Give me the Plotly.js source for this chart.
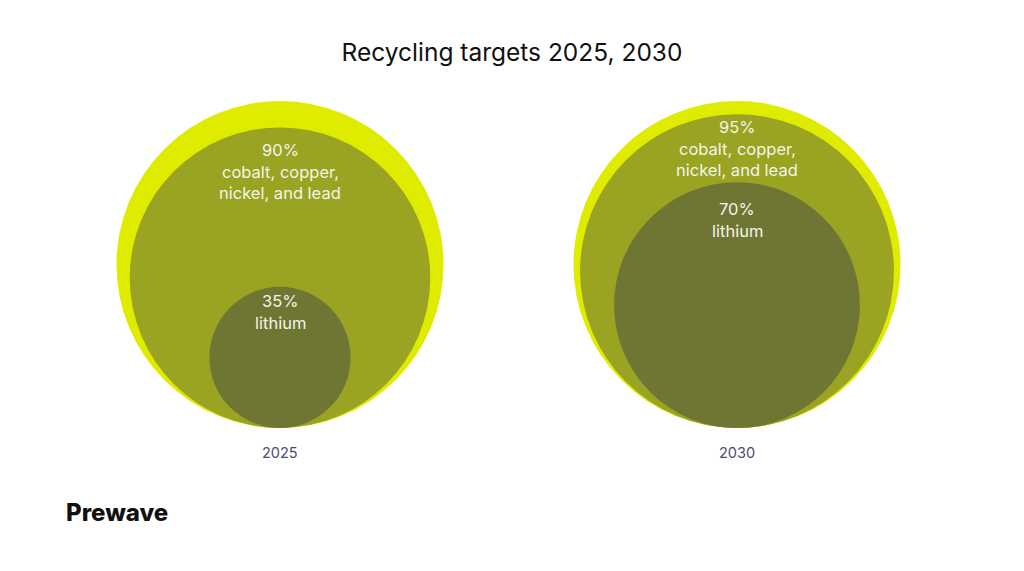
<!DOCTYPE html>
<html>
<head>
<meta charset="utf-8">
<script src="https://cdn.plot.ly/plotly-3.0.1.min.js"></script>
<style>html,body{margin:0;padding:0;background:#fff;}#chart{width:1024px;height:571px;}</style>
</head>
<body>
<div id="chart"></div>
<script>
// ---- data ----
const years = ['2025', '2030'];
const metalsShare = [90, 95];     // cobalt, copper, nickel and lead
const lithiumShare = [35, 70];    // lithium
const metalsLines = ['cobalt, copper,', 'nickel, and lead'];
const lithiumLines = ['lithium'];
const chartTitle = 'Recycling targets 2025, 2030';

// ---- layout helpers (plot coords = pixels, y up) ----
const H = 571;
const centersX = [280, 737];
const baseY = H - 428;           // common bottom of all circles
const outerR = 163.5;
const radius = v => outerR * Math.pow(v / 100, 0.8);
const metalsTopPx = [150, 127];
const lithiumTopPx = [301, 209];
const lineGap = 21.5;
const FONT = 'Inter, "Noto Sans", sans-serif';

const colors = {outer: '#DFEC00', metals: '#9AA322', lithium: '#6F7633'};
const shapes = [];
const annotations = [];

function circle(cx, r, color) {
  shapes.push({type: 'circle', xref: 'x', yref: 'y', x0: cx - r, x1: cx + r,
    y0: baseY, y1: baseY + 2 * r, fillcolor: color, line: {width: 0}, layer: 'below'});
}
function label(x, pyTop, lines) {
  lines.forEach((t, k) => {
    annotations.push({x: x, y: H - (pyTop + k * lineGap), xref: 'x', yref: 'y', text: t,
      showarrow: false, xanchor: 'center', yanchor: 'middle',
      font: {family: FONT, size: 16.5, color: '#F4F5EA'}});
  });
}

years.forEach((yr, i) => {
  const cx = centersX[i];
  circle(cx, outerR, colors.outer);
  circle(cx, radius(metalsShare[i]), colors.metals);
  circle(cx, radius(lithiumShare[i]), colors.lithium);
  label(cx, metalsTopPx[i], [metalsShare[i] + '%'].concat(metalsLines));
  label(cx, lithiumTopPx[i], [lithiumShare[i] + '%'].concat(lithiumLines));
  annotations.push({x: cx, y: H - 452, xref: 'x', yref: 'y', text: yr, showarrow: false,
    xanchor: 'center', yanchor: 'middle',
    font: {family: FONT, size: 14.5, color: '#4A4A78'}});
});

annotations.push({x: 64, y: H - 512, xref: 'x', yref: 'y', text: 'Prewave', showarrow: false,
  xanchor: 'left', yanchor: 'middle',
  font: {family: FONT, size: 24, weight: 800, color: '#111111'}});

const layout = {
  width: 1024, height: 571,
  margin: {l: 0, r: 0, t: 0, b: 0},
  paper_bgcolor: '#ffffff', plot_bgcolor: '#ffffff',
  title: {text: chartTitle, x: 0.5, xanchor: 'center', y: 1 - 52 / H, yanchor: 'middle',
    font: {family: FONT, size: 24.5, color: '#111111'}},
  xaxis: {range: [0, 1024], visible: false, fixedrange: true},
  yaxis: {range: [0, H], visible: false, fixedrange: true},
  shapes: shapes,
  annotations: annotations,
  showlegend: false
};

Plotly.newPlot('chart', [{x: [], y: [], type: 'scatter', hoverinfo: 'skip'}], layout,
  {displayModeBar: false, staticPlot: true});
</script>
</body>
</html>
